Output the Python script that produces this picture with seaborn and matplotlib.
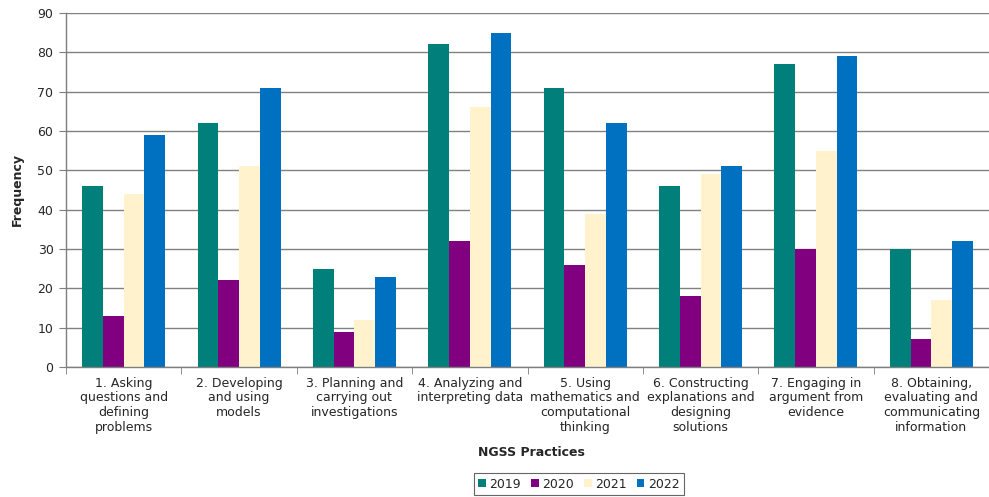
import matplotlib
matplotlib.use("Agg")
import matplotlib.pyplot as plt
from matplotlib.ticker import FixedLocator, NullFormatter
import seaborn as sns
import pandas as pd

practices = [
    "1. Asking\nquestions and\ndefining\nproblems",
    "2. Developing\nand using\nmodels",
    "3. Planning and\ncarrying out\ninvestigations",
    "4. Analyzing and\ninterpreting data",
    "5. Using\nmathematics and\ncomputational\nthinking",
    "6. Constructing\nexplanations and\ndesigning\nsolutions",
    "7. Engaging in\nargument from\nevidence",
    "8. Obtaining,\nevaluating and\ncommunicating\ninformation",
]
years = ["2019", "2020", "2021", "2022"]
freq_2019 = [46, 62, 25, 82, 71, 46, 77, 30]
freq_2020 = [13, 22, 9, 32, 26, 18, 30, 7]
freq_2021 = [44, 51, 12, 66, 39, 49, 55, 17]
freq_2022 = [59, 71, 23, 85, 62, 51, 79, 32]
y_ticks = [0, 10, 20, 30, 40, 50, 60, 70, 80, 90]

colors = ["#007F7B", "#800080", "#FFF2CC", "#0070C0"]

rows = []
for yr, vals in zip(years, [freq_2019, freq_2020, freq_2021, freq_2022]):
    for p, v in zip(practices, vals):
        rows.append({"Practice": p, "Year": yr, "Frequency": v})
df = pd.DataFrame(rows)

sns.set_style("white")
plt.rcParams["font.family"] = ["DejaVu Sans"]

fig = plt.figure(figsize=(9.89, 4.97), dpi=100)
ax = fig.add_axes([66 / 989, 130 / 497, 1 - 66 / 989, 354 / 497])

sns.barplot(data=df, x="Practice", y="Frequency", hue="Year",
            order=practices, hue_order=years, palette=colors,
            width=0.72, gap=0, saturation=1, edgecolor="none",
            linewidth=0, ax=ax, legend=True)

ax.set_ylim(0, 90)
ax.set_xlim(-0.5, len(practices) - 0.5)
ax.set_yticks(y_ticks)
ax.yaxis.grid(True, color="#808080", linewidth=1.0)
ax.set_axisbelow(True)

for s in ["top", "right"]:
    ax.spines[s].set_visible(False)
for s in ["left", "bottom"]:
    ax.spines[s].set_color("#7f7f7f")
    ax.spines[s].set_linewidth(1.0)

ax.tick_params(axis="y", which="major", length=5, color="#7f7f7f",
               labelsize=9, pad=4, left=True)
ax.tick_params(axis="x", which="major", length=0, labelsize=9, pad=7)
ax.xaxis.set_minor_locator(FixedLocator([i - 0.5 for i in range(len(practices) + 1)]))
ax.xaxis.set_minor_formatter(NullFormatter())
ax.tick_params(axis="x", which="minor", length=5, color="#7f7f7f",
               direction="out", bottom=True)
for lbl in ax.get_xticklabels():
    lbl.set_multialignment("center")
    lbl.set_linespacing(1.16)

ax.set_xlabel("")
ax.set_ylabel("Frequency", fontsize=9, fontweight="bold", labelpad=10)

fig.text(531 / 989, 1 - 452 / 497, "NGSS Practices", ha="center", va="center",
         fontsize=9, fontweight="bold")

handles, labels = ax.get_legend_handles_labels()
ax.get_legend().remove()
leg = fig.legend(handles, labels, loc="center", bbox_to_anchor=(579 / 989, 1 - 484 / 497),
                 ncol=4, frameon=True, fancybox=False, fontsize=9,
                 handlelength=0.6, handleheight=0.6, handletextpad=0.3,
                 columnspacing=0.8, borderpad=0.35, borderaxespad=0)
leg.get_frame().set_edgecolor("#404040")
leg.get_frame().set_linewidth(0.8)

fig.savefig("out.png", dpi=100)
